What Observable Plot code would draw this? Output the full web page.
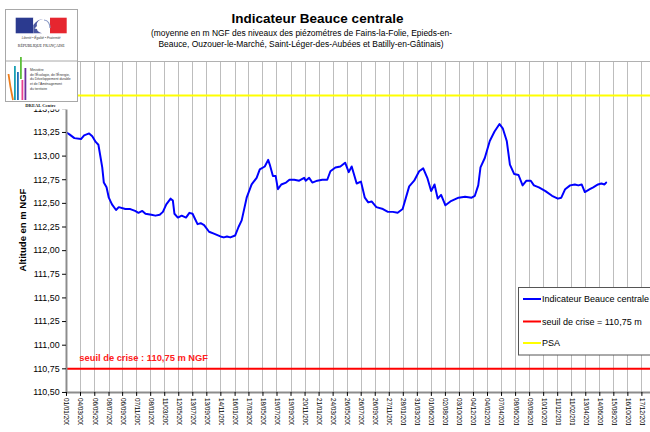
<!DOCTYPE html>
<html>
<head>
<meta charset="utf-8">
<script src="https://cdn.jsdelivr.net/npm/d3@7"></script>
<script src="https://cdn.jsdelivr.net/npm/@observablehq/plot@0.6"></script>
<style>
html, body { margin: 0; padding: 0; overflow: hidden; background: #fff; }
#wrap { position: relative; width: 650px; height: 432px; overflow: hidden; background: #fff;
        font-family: "Liberation Sans", Arial, sans-serif; }
#chart { position: absolute; left: 0; top: 0; }
#overlay { position: absolute; left: 0; top: 0; }
</style>
</head>
<body>
<div id="wrap">
  <div id="chart"></div>
  <svg id="overlay" width="650" height="432" font-family="'Liberation Sans', Arial, sans-serif">
    <!-- white area behind logo -->
    <rect x="0" y="0" width="70" height="109.5" fill="#fff"/>
    <rect x="5.5" y="9.5" width="72" height="92" fill="#fff" stroke="#a8a8a8" stroke-width="1"/>
    <line x1="5.5" x2="77.5" y1="61" y2="61" stroke="#a8a8a8" stroke-width="1"/>
    <!-- flag -->
    <rect x="15.7" y="17.7" width="17.6" height="15.6" fill="#2b3a8f"/>
    <rect x="33.3" y="17.7" width="16.7" height="15.6" fill="#fff"/>
    <rect x="50" y="17.7" width="16.7" height="15.6" fill="#e6262f"/>
    <path d="M43 19 C38 20 36 23 37 26 L34.5 28.5 L37 29 C37 31 39 32.5 42 33.3 L33.3 33.3 L33.3 25 C36 22 38 19.5 43 19 Z" fill="#2b3a8f" opacity="0.85"/>
    <path d="M44 20 C48 20 50 24 50 28" stroke="#8c9bc6" stroke-width="1.2" fill="none"/>
    <text x="41.2" y="39" font-size="3.2" font-style="italic" text-anchor="middle" fill="#333">Liberté • Égalité • Fraternité</text>
    <text x="41.2" y="47" font-size="3.9" text-anchor="middle" fill="#222" font-family="'Liberation Serif', serif">RÉPUBLIQUE FRANÇAISE</text>
    <!-- ministry bars -->
    <path d="M8.5 74 Q10 86 13 100" stroke="#ef7d1a" stroke-width="1.8" fill="none"/>
    <rect x="14" y="66" width="1.8" height="34" fill="#1aa0b4"/>
    <rect x="17" y="72" width="1.8" height="28" fill="#1f6fb8"/>
    <rect x="20" y="57" width="1.8" height="22" fill="#5cbf3a"/>
    <rect x="21.5" y="80" width="1.8" height="20" fill="#e8428f"/>
    <rect x="24.5" y="68" width="1.8" height="32" fill="#6c2f9e"/>
    <g font-size="3.4" fill="#333">
      <text x="30" y="70.7">Ministère</text>
      <text x="30" y="75.5">de l'Écologie, de l'Énergie,</text>
      <text x="30" y="80.3">du Développement durable</text>
      <text x="30" y="85.1">et de l'Aménagement</text>
      <text x="30" y="89.9">du territoire</text>
    </g>
    <text x="40.5" y="106.5" font-size="4.6" font-weight="bold" text-anchor="middle" font-family="'Liberation Serif', serif" fill="#222">DREAL Centre</text>
    <!-- titles -->
    <text x="317.5" y="22.5" font-size="13.5" font-weight="bold" text-anchor="middle" fill="#000">Indicateur Beauce centrale</text>
    <text x="301.5" y="36" font-size="8.45" text-anchor="middle" fill="#000">(moyenne en m NGF des niveaux des piézométres de Fains-la-Folie, Epieds-en-</text>
    <text x="301" y="47" font-size="8.45" text-anchor="middle" fill="#000">Beauce, Ouzouer-le-Marché, Saint-Léger-des-Aubées et Batilly-en-Gâtinais)</text>
    <text id="ylab" transform="translate(25.5,230) rotate(-90)" font-size="9.5" font-weight="bold" text-anchor="middle" fill="#000"></text>
    <g id="legend"></g>
  </svg>
</div>
<script>
// ---- data ----
const dates = [
  "2006-01-01","2006-01-14","2006-02-05","2006-03-06","2006-03-20","2006-04-11","2006-04-25","2006-05-10",
  "2006-05-22","2006-06-01","2006-06-08","2006-06-15","2006-06-27","2006-07-07","2006-07-21","2006-08-08",
  "2006-08-20","2006-09-18","2006-10-10","2006-10-31","2006-11-15","2006-12-02","2006-12-16","2007-01-11",
  "2007-01-29","2007-02-17","2007-03-03","2007-03-18","2007-04-06","2007-04-16","2007-04-23","2007-05-08",
  "2007-05-25","2007-06-13","2007-06-28","2007-07-12","2007-07-22","2007-08-03","2007-08-17","2007-09-01",
  "2007-09-23","2007-10-14","2007-11-12","2007-11-27","2007-12-11","2007-12-26","2008-01-16","2008-01-31",
  "2008-02-14","2008-03-07","2008-03-29","2008-04-20","2008-05-04","2008-05-26","2008-06-10","2008-06-17",
  "2008-07-01","2008-07-13","2008-07-23","2008-08-07","2008-08-28","2008-09-12","2008-10-03","2008-10-25",
  "2008-11-16","2008-11-23","2008-12-08","2008-12-22","2009-01-13","2009-02-04","2009-02-26","2009-03-12",
  "2009-04-03","2009-04-25","2009-05-16","2009-06-01","2009-06-14","2009-07-06","2009-07-25","2009-08-11",
  "2009-08-26","2009-09-10","2009-10-01","2009-10-30","2009-11-21","2009-12-13","2010-01-03","2010-01-25",
  "2010-02-23","2010-03-17","2010-04-08","2010-04-26","2010-05-14","2010-05-31","2010-06-15","2010-06-29",
  "2010-07-14","2010-08-02","2010-08-24","2010-09-29","2010-10-28","2010-11-26","2010-12-10","2010-12-25",
  "2011-01-04","2011-01-23","2011-02-14","2011-03-07","2011-03-29","2011-04-13","2011-04-30","2011-05-14",
  "2011-06-02","2011-06-21","2011-07-09","2011-07-26","2011-08-14","2011-08-28","2011-09-19","2011-10-18",
  "2011-11-16","2011-12-12","2011-12-27","2012-01-13","2012-02-04","2012-02-25","2012-03-11","2012-03-26",
  "2012-04-09","2012-05-01","2012-05-16","2012-06-06","2012-06-21","2012-07-05","2012-07-12"
];
const niveaux = [
  113.25,113.23,113.19,113.18,113.22,113.24,113.21,113.15,
  113.12,112.98,112.88,112.72,112.67,112.56,112.49,112.43,
  112.46,112.44,112.44,112.42,112.40,112.42,112.39,112.38,
  112.37,112.38,112.41,112.49,112.55,112.53,112.39,112.35,
  112.37,112.35,112.40,112.39,112.34,112.28,112.29,112.27,
  112.20,112.18,112.15,112.14,112.15,112.14,112.16,112.25,
  112.32,112.56,112.70,112.77,112.86,112.89,112.96,112.91,
  112.79,112.79,112.65,112.70,112.72,112.75,112.75,112.74,
  112.77,112.74,112.77,112.72,112.74,112.75,112.75,112.84,
  112.88,112.89,112.93,112.83,112.89,112.71,112.73,112.56,
  112.51,112.52,112.46,112.44,112.41,112.41,112.40,112.44,
  112.68,112.74,112.84,112.87,112.77,112.63,112.70,112.55,
  112.59,112.48,112.52,112.56,112.57,112.56,112.58,112.69,
  112.88,112.98,113.16,113.26,113.34,113.29,113.16,112.91,
  112.81,112.80,112.69,112.74,112.74,112.69,112.67,112.63,
  112.58,112.55,112.56,112.65,112.69,112.70,112.69,112.70,
  112.62,112.65,112.67,112.70,112.71,112.70,112.72
];
const tickLabels = [
  "01/01/2006","04/03/2006","06/05/2006","08/07/2006","06/09/2006","07/11/2006",
  "08/01/2007","11/03/2007","12/05/2007","13/07/2007","13/09/2007","14/11/2007",
  "16/01/2008","17/03/2008","18/05/2008","19/07/2008","19/09/2008","20/11/2008",
  "21/01/2009","24/03/2009","26/05/2009","26/07/2009","26/09/2009","27/11/2009",
  "28/01/2010","31/03/2010","01/06/2010","02/08/2010","03/10/2010","04/12/2010",
  "04/02/2011","07/04/2011","08/06/2011","09/08/2011","10/10/2011","11/12/2011",
  "11/02/2012","13/04/2012","14/06/2012","15/08/2012","16/10/2012","17/12/2012"
];
const yTicks = [110.5, 110.75, 111, 111.25, 111.5, 111.75, 112, 112.25, 112.5, 112.75, 113, 113.25, 113.5];
const seuilCrise = 110.75;
const psa = 113.64;
const legendLabels = ["Indicateur Beauce centrale", "seuil de crise = 110,75 m", "PSA"];
const legendColors = ["#0000ff", "#ff0000", "#ffff00"];
const yLabel = "Altitude en m NGF";
const seuilText = "seuil de crise : 110,75 m NGF";

// ---- scale settings ----
const yDomain = [110.5, 114];
const xDomain = [new Date("2006-01-01T00:00:00Z"), new Date("2013-01-24T00:00:00Z")];

const parseTick = d3.utcParse("%d/%m/%Y");
const tickDates = tickLabels.map(parseTick);
const data = dates.map((d, i) => ({date: new Date(d + "T00:00:00Z"), value: niveaux[i]}));
const frFmt = d => d.toFixed(2).replace(".", ",");

const chart = Plot.plot({
  width: 660,
  height: 432,
  marginTop: 62,
  marginBottom: 34,
  marginLeft: 67,
  marginRight: 0,
  style: {fontFamily: "'Liberation Sans', Arial, sans-serif", background: "#fff", color: "#000"},
  x: {type: "utc", domain: xDomain},
  y: {domain: yDomain},
  marks: [
    Plot.ruleX(tickDates, {stroke: "#bcbcbc", strokeWidth: 1, shapeRendering: "crispEdges"}),
    Plot.ruleY([yDomain[1]], {stroke: "#b0b0b0", shapeRendering: "crispEdges"}),
    Plot.ruleY([psa], {stroke: "#ffff00", strokeWidth: 2}),
    Plot.ruleY([seuilCrise], {stroke: "#ff0000", strokeWidth: 2}),
    Plot.line(data, {x: "date", y: "value", stroke: "#0000ff", strokeWidth: 2, strokeLinejoin: "round"}),
    Plot.ruleX([tickDates[0]], {stroke: "#8c8c8c", strokeWidth: 2}),
    Plot.ruleY([yDomain[0]], {stroke: "#8c8c8c", strokeWidth: 2}),
    Plot.axisX({ticks: tickDates, tickFormat: d3.utcFormat("%d/%m/%Y"), tickRotate: 90,
                tickSize: 4, tickPadding: 1.5, fontSize: 6.5, label: null}),
    Plot.axisY({ticks: yTicks, tickFormat: frFmt, tickSize: 4, tickPadding: 3, fontSize: 9, label: null}),
    Plot.text([{x: tickDates[0], y: seuilCrise}], {x: "x", y: "y", text: () => seuilText,
                textAnchor: "start", dx: 13, dy: -11, fill: "#ff2020", fontWeight: "bold", fontSize: 9.5})
  ]
});
document.getElementById("chart").appendChild(chart);

d3.select("#ylab").text(yLabel);

// ---- legend ----
const lg = d3.select("#legend");
lg.append("rect").attr("x", 518.5).attr("y", 287.5).attr("width", 200).attr("height", 67.5)
  .attr("fill", "#fff").attr("stroke", "#555").attr("stroke-width", 1);
const rowY = [299, 321.5, 343];
legendLabels.forEach((lab, i) => {
  lg.append("line").attr("x1", 523).attr("x2", 541).attr("y1", rowY[i]).attr("y2", rowY[i])
    .attr("stroke", legendColors[i]).attr("stroke-width", 2);
  lg.append("text").attr("x", 542).attr("y", rowY[i] + 3.2).attr("font-size", 9).attr("fill", "#000").text(lab);
});
</script>
</body>
</html>
